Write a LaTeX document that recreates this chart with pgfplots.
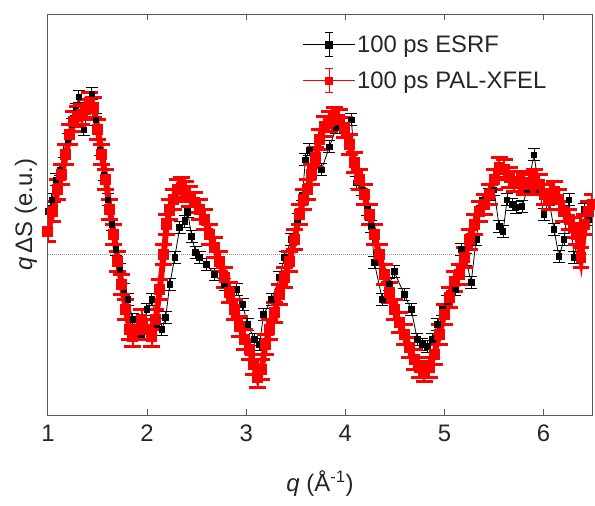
\documentclass[border=0pt]{standalone}
\usepackage{fontspec}
\setmainfont{Liberation Sans}
\usepackage{pgfplots}
\pgfplotsset{compat=1.18}
\usepackage{pgfplotstable}
\definecolor{axgray}{RGB}{90,90,90}
\definecolor{zgray}{RGB}{150,150,150}
\definecolor{pred}{RGB}{255,0,0}

\pgfplotstableread{
q y
1.000 43
1.040 55
1.081 75
1.121 85
1.161 103
1.201 115
1.242 130
1.282 145
1.312 158
1.363 125
1.403 143
1.443 161
1.483 135
1.524 105
1.564 80
1.604 55
1.645 30
1.685 5
1.725 -15
1.765 -35
1.806 -45
1.856 -65
1.906 -80
1.947 -80
1.997 -55
2.047 -45
2.098 -70
2.148 -75
2.188 -63
2.229 -30
2.279 -3
2.329 27
2.380 33
2.410 43
2.450 18
2.490 2
2.531 -3
2.601 -10
2.682 -20
2.782 -30
2.903 -35
2.964 -50
3.014 -70
3.085 -85
3.135 -90
3.175 -60
3.256 -45
3.336 -23
3.387 -3
3.457 15
3.518 35
3.568 60
3.598 95
3.638 105
3.699 95
3.759 85
3.840 108
3.910 127
3.991 130
4.061 135
4.112 72
4.172 65
4.223 45
4.263 28
4.293 -8
4.374 -45
4.444 -30
4.494 -17
4.595 -40
4.666 -55
4.726 -85
4.776 -90
4.827 -92
4.877 -85
4.927 -70
4.978 -55
5.028 -47
5.109 -35
5.169 5
5.219 -5
5.270 -28
5.320 15
5.380 55
5.451 60
5.501 65
5.552 28
5.592 23
5.632 55
5.683 50
5.723 47
5.783 48
5.834 65
5.904 100
5.955 65
6.005 40
6.055 55
6.106 25
6.156 -2
6.206 15
6.257 55
6.307 -3
6.358 25
6.408 45
6.458 35
}\esrf

\pgfplotstableread{
q y
1.000 23
1.050 43
1.101 65
1.141 80
1.181 100
1.222 120
1.262 133
1.302 138
1.342 140
1.383 145
1.423 152
1.463 147
1.504 125
1.544 100
1.584 75
1.624 45
1.665 20
1.705 -7
1.745 -30
1.785 -55
1.826 -75
1.856 -82
1.896 -75
1.947 -65
1.997 -75
2.047 -82
2.088 -65
2.128 -35
2.168 0
2.198 30
2.229 45
2.269 55
2.309 65
2.349 67
2.390 63
2.430 58
2.480 52
2.531 45
2.581 35
2.631 20
2.682 7
2.732 -7
2.782 -23
2.833 -38
2.883 -55
2.934 -72
2.984 -85
3.034 -95
3.074 -110
3.115 -123
3.155 -115
3.195 -90
3.236 -75
3.286 -58
3.336 -40
3.387 -23
3.437 -7
3.487 15
3.538 40
3.578 55
3.618 65
3.659 80
3.699 97
3.739 115
3.789 128
3.840 133
3.890 137
3.941 135
3.991 127
4.041 110
4.092 92
4.142 75
4.192 60
4.243 40
4.293 20
4.343 0
4.394 -20
4.444 -38
4.494 -55
4.545 -68
4.595 -80
4.646 -93
4.696 -105
4.746 -113
4.797 -117
4.847 -113
4.897 -100
4.948 -80
4.998 -60
5.048 -43
5.099 -27
5.149 -20
5.199 -3
5.250 15
5.300 30
5.350 43
5.401 50
5.451 60
5.501 75
5.552 87
5.602 85
5.652 77
5.703 73
5.753 73
5.804 70
5.854 72
5.904 75
5.955 70
6.005 60
6.055 55
6.106 63
6.156 55
6.206 43
6.257 35
6.307 27
6.337 20
6.378 -3
6.418 30
6.458 43
6.489 50
}\pal

\begin{document}
\begin{tikzpicture}
\begin{axis}[
  scale only axis,
  width=545bp, height=402bp,
  xmin=1, xmax=6.49,
  ymin=-161, ymax=241,
  xtick={1,2,3,4,5,6},
  ytick=\empty,
  tick align=inside,
  major tick length=6bp,
  axis line style={axgray, line width=0.9bp},
  every tick/.style={axgray, line width=0.9bp},
  /pgf/number format/assume math mode=true,
  every tick label/.append style={font=\fontsize{24}{28}\selectfont, text=black!85},
  xticklabel style={yshift=-6bp},
  xlabel={\textit{q} (Å\textsuperscript{-1})},
  ylabel={\textit{q}$\,$ΔS (e.u.)},
  x label style={at={(axis description cs:0.5,-0.170)}, anchor=center, font=\fontsize{24}{28}\selectfont, text=black!85},
  y label style={at={(axis description cs:-0.0404,0.5)}, anchor=center, font=\fontsize{24}{28}\selectfont, text=black!85},
  legend style={draw=none, fill=none, at={(axis description cs:0.468,0.955)}, anchor=north west,
    font=\fontsize{24}{28}\selectfont, text=black!85, inner sep=0pt, row sep=11bp, nodes={inner sep=1.5bp}},
  legend cell align=left,
  clip=true,
]
\addplot[zgray, densely dotted, line width=1bp, forget plot] coordinates {(1,0) (6.49,0)};

\addplot[black, line width=0.8bp, mark=square*, mark size=2.8bp,
  legend image code/.code={
    \draw[black, line width=0.8bp] (0bp,0bp) -- (52bp,0bp);
    \draw[black, line width=0.9bp] (26bp,-12bp) -- (26bp,12bp) (22bp,-12bp) -- (30bp,-12bp) (22bp,12bp) -- (30bp,12bp);
    \fill[black] (22.5bp,-3.5bp) rectangle (29.5bp,3.5bp);},
  error bars/.cd, y dir=both, y fixed=6,
  error bar style={black, line width=0.9bp},
  error mark options={rotate=90, mark size=6bp, line width=1bp, black}]
  table[x=q, y=y] {\esrf};
\addlegendentry{100 ps ESRF}

\addplot[pred, line width=6bp, no markers, forget plot] table[x=q, y=y] {\pal};

\addplot[pred, line width=0.8bp, mark=square*, mark size=3bp, mark options={pred, line width=5bp},
  legend image code/.code={
    \draw[pred, line width=0.8bp] (0bp,0bp) -- (52bp,0bp);
    \draw[pred, line width=0.9bp] (26bp,-12bp) -- (26bp,12bp) (22bp,-12bp) -- (30bp,-12bp) (22bp,12bp) -- (30bp,12bp);
    \fill[pred] (22.5bp,-3.5bp) rectangle (29.5bp,3.5bp);},
  error bars/.cd, y dir=both, y fixed=10,
  error bar style={pred, line width=2bp},
  error mark options={rotate=90, mark size=8.5bp, line width=3bp, pred}]
  table[x=q, y=y] {\pal};
\addlegendentry{100 ps PAL-XFEL}
\end{axis}
\path ([shift={(-48bp,-90bp)}]current axis.south west) rectangle ([shift={(2bp,14bp)}]current axis.north east);
\end{tikzpicture}
\end{document}
